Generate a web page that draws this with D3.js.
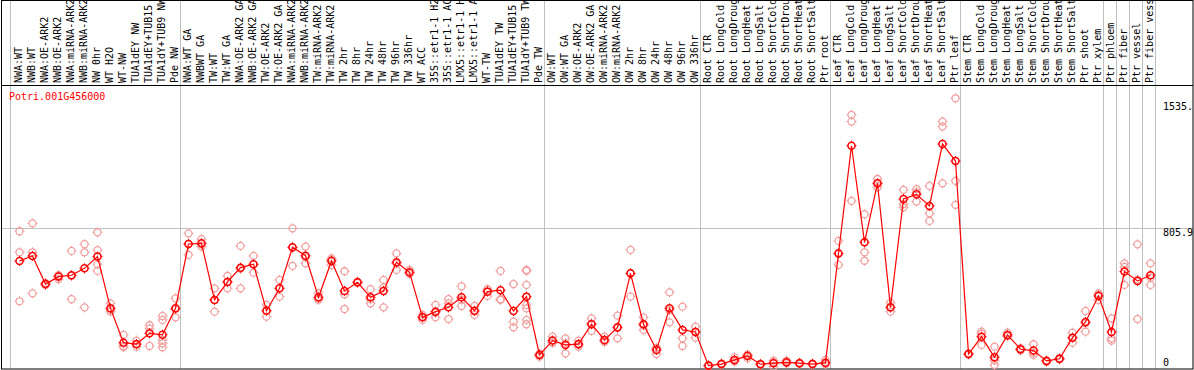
<!DOCTYPE html>
<html>
<head>
<meta charset="utf-8">
<script src="https://cdn.jsdelivr.net/npm/d3@7"></script>
<style>
  body { margin: 0; background: #fff; }
  text { font-family: "DejaVu Sans Mono", monospace; font-size: 10px; }
</style>
</head>
<body>
<script>
// sample labels, in column order
const labels = [
  "NWA:WT", "NWB:WT", "NWA:OE-ARK2", "NWB:OE-ARK2", "NWA:miRNA-ARK2", "NWB:miRNA-ARK2",
  "NW 0hr", "WT H2O", "WT-NW", "TUA1dEY NW", "TUA1dEY+TUB15 NW", "TUA1dY+TUB9 NW", "Pde NW",
  "NWA:WT GA", "NWBWT GA", "TW:WT", "TW:WT GA", "NWA:OE-ARK2 GA", "NWB:OE-ARK2 GA",
  "TW:OE-ARK2", "TW:OE-ARK2 GA", "NWA:miRNA-ARK2", "NWB:miRNA-ARK2", "TW:miRNA-ARK2",
  "TW:miRNA-ARK2", "TW 2hr", "TW 8hr", "TW 24hr", "TW 48hr", "TW 96hr", "TW 336hr",
  "WT ACC", "35S::etr1-1 H2O", "35S::etr1-1 ACC", "LMX5::etr1-1 H2O", "LMX5::etr1-1 ACC",
  "WT-TW", "TUA1dEY TW", "TUA1dEY+TUB15 TW", "TUA1dY+TUB9 TW", "Pde TW",
  "OW:WT", "OW:WT GA", "OW:OE-ARK2", "OW:OE-ARK2 GA", "OW:miRNA-ARK2", "OW:miRNA-ARK2",
  "OW 2hr", "OW 8hr", "OW 24hr", "OW 48hr", "OW 96hr", "OW 336hr",
  "Root CTR", "Root LongCold", "Root LongDrought", "Root LongHeat", "Root LongSalt",
  "Root ShortCold", "Root ShortDrought", "Root ShortHeat", "Root ShortSalt", "Ptr root",
  "Leaf CTR", "Leaf LongCold", "Leaf LongDrought", "Leaf LongHeat", "Leaf LongSalt",
  "Leaf ShortCold", "Leaf ShortDrought", "Leaf ShortHeat", "Leaf ShortSalt", "Ptr leaf",
  "Stem CTR", "Stem LongCold", "Stem LongDrought", "Stem LongHeat", "Stem LongSalt",
  "Stem ShortCold", "Stem ShortDrought", "Stem ShortHeat", "Stem ShortSalt", "Ptr shoot",
  "Ptr xylem", "Ptr phloem", "Ptr fiber", "Ptr vessel", "Ptr fiber vessel"
];

// number of columns in each group (separator lines go between groups)
const groupSizes = [13, 28, 12, 10, 10, 11, 1, 1, 1, 1];

// mean expression per sample
const means = [
  615, 644, 481, 524, 532, 572, 640, 340, 141, 133, 195, 187, 340,
  713, 717, 389, 493, 576, 596, 326, 456, 694, 645, 404, 615, 441, 491, 404, 441, 607,
  549, 288, 321, 346, 404, 326, 437, 445, 325, 408, 70,
  153, 128, 133, 248, 157, 230, 543, 248, 99, 340, 215, 203,
  8, 17, 41, 64, 16, 22, 27, 22, 17, 25,
  659, 1283, 723, 1065, 346, 974, 1001, 934, 1293, 1194,
  75, 176, 56, 186, 103, 95, 35, 48, 170, 261, 412,
  203, 553, 499, 532
];

// replicate values per sample
const reps = [
  [787, 665, 381], [833, 665, 427], [475, 481, 488], [509, 530, 532], [673, 393, 529],
  [712, 665, 346], [781, 678, 596, 557], [369, 321, 331], [186, 122, 115], [153, 118, 130],
  [242, 222, 122], [296, 273, 157, 137, 114], [398, 288, 334],
  [775, 650, 714], [741, 698, 712], [456, 321, 389], [528, 456, 494], [702, 456, 569],
  [644, 547, 595], [360, 292, 327], [505, 408, 456], [804, 586, 692], [698, 601, 636],
  [427, 389, 396], [630, 592, 622], [555, 422, 336], [495, 488, 490], [451, 369, 392],
  [505, 462, 346], [659, 563, 600], [563, 542, 542], [302, 273, 290], [360, 288, 314],
  [394, 369, 278], [468, 354, 390], [354, 302, 323], [451, 412, 447], [557, 393, 389],
  [481, 263, 230], [563, 557, 476, 360, 340, 273, 248], [60, 70, 78],
  [176, 140, 142], [166, 79, 138], [153, 118, 129], [282, 209, 252], [176, 146, 148],
  [298, 166, 226], [679, 408, 543], [288, 215, 240], [75, 110, 111], [433, 259, 329],
  [350, 166, 122], [234, 170, 205],
  [4, 7, 11], [14, 17, 21], [56, 33, 33], [50, 70, 71], [12, 16, 19], [37, 2, 26],
  [37, 22, 23], [18, 22, 25], [14, 17, 21], [41, 17, 17],
  [731, 592, 655], [1462, 1423, 963], [886, 665, 616], [1090, 1042, 1063], [373, 321, 344],
  [1027, 945, 926], [1031, 959, 1014], [1050, 891, 847], [1423, 1394, 1065], [1558, 1079, 940],
  [79, 73, 74], [205, 128, 194], [118, 12, 39], [199, 178, 179], [96, 103, 109],
  [132, 70, 82], [30, 35, 39], [44, 48, 52], [199, 141, 170], [325, 205, 253],
  [427, 389, 419], [282, 166, 153], [601, 476, 580], [711, 278, 507], [601, 476, 518]
];

const yTicks = [0, 805.9, 1535];
const yTickLabels = ["0", "805.9", "1535."];
const geneId = "Potri.001G456000";

const width = 1194, height = 370;
const frameRight = 1193, headerBottom = 85, plotBottom = 369;
const gridColor = "#c0c0c0";

const svg = d3.select("body").append("svg")
  .attr("width", width)
  .attr("height", height);

const x = d3.scaleBand()
  .domain(d3.range(labels.length))
  .range([13, 13 + 13 * labels.length])
  .padding(0);
const cx = i => x(i) + x.bandwidth() / 2;

const y = d3.scaleLinear()
  .domain([0, 805.9])
  .range([367, 228]);

// group separator lines, full height
let starts = [0];
groupSizes.forEach(n => starts.push(starts[starts.length - 1] + n));
svg.append("g")
  .selectAll("line")
  .data(starts)
  .join("line")
  .attr("x1", (k, i) => i === 0 ? 10.5 : (k < labels.length ? x(k) : x(labels.length - 1) + 13) - 1.5)
  .attr("x2", (k, i) => i === 0 ? 10.5 : (k < labels.length ? x(k) : x(labels.length - 1) + 13) - 1.5)
  .attr("y1", 0)
  .attr("y2", plotBottom)
  .attr("stroke", gridColor);

// horizontal grid at the middle value
svg.append("line")
  .attr("x1", 1).attr("x2", frameRight)
  .attr("y1", Math.round(y(805.9)) + 0.5).attr("y2", Math.round(y(805.9)) + 0.5)
  .attr("stroke", gridColor);

// frame
svg.append("rect")
  .attr("x", 1.5).attr("y", 0.5)
  .attr("width", frameRight - 1.5).attr("height", plotBottom - 0.5)
  .attr("fill", "none").attr("stroke", "#000");
svg.append("line")
  .attr("x1", 1).attr("x2", frameRight)
  .attr("y1", headerBottom + 0.5).attr("y2", headerBottom + 0.5)
  .attr("stroke", "#000");

// rotated sample labels, clipped to the header
svg.append("clipPath").attr("id", "hdr")
  .append("rect").attr("x", 0).attr("y", 1).attr("width", width).attr("height", headerBottom - 1);
svg.append("g")
  .attr("clip-path", "url(#hdr)")
  .selectAll("text")
  .data(labels)
  .join("text")
  .attr("transform", (d, i) => `translate(${cx(i) + 2},83) rotate(-90)`)
  .attr("fill", "#000")
  .text(d => d);

// gene id
svg.append("text")
  .attr("x", 9).attr("y", 100)
  .attr("fill", "#ff0000")
  .text(geneId);

// y labels on the right
svg.append("g")
  .selectAll("text")
  .data(yTicks)
  .join("text")
  .attr("x", 1163)
  .attr("y", (d, i) => i === 0 ? y(d) - 1 : y(d) + 8)
  .attr("fill", "#000")
  .text((d, i) => yTickLabels[i]);

// little pixel-style circle marker
function marker(g, color, sw) {
  g.append("circle").attr("r", 3.5).attr("fill", "none")
    .attr("stroke", color).attr("stroke-width", sw);
  g.append("path")
    .attr("d", "M0,-5V-3.5M0,3.5V5M-5,0H-3.5M3.5,0H5")
    .attr("stroke", color).attr("stroke-width", 1);
}

// replicate points
const repPts = reps.flatMap((r, i) => r.map(v => ({ i, v })));
svg.append("g")
  .selectAll("g")
  .data(repPts)
  .join("g")
  .attr("transform", d => `translate(${cx(d.i)},${y(d.v)})`)
  .each(function () { marker(d3.select(this), "#f0a0a0", 1.3); });

// mean line
const line = d3.line()
  .x((d, i) => cx(i))
  .y(d => y(d));
svg.append("path")
  .datum(means)
  .attr("fill", "none")
  .attr("stroke", "#ff0000")
  .attr("stroke-width", 1.2)
  .attr("d", line);

// mean markers
svg.append("g")
  .selectAll("g")
  .data(means)
  .join("g")
  .attr("transform", (d, i) => `translate(${cx(i)},${y(d)})`)
  .each(function () { marker(d3.select(this), "#ff0000", 1.5); });
</script>
</body>
</html>
